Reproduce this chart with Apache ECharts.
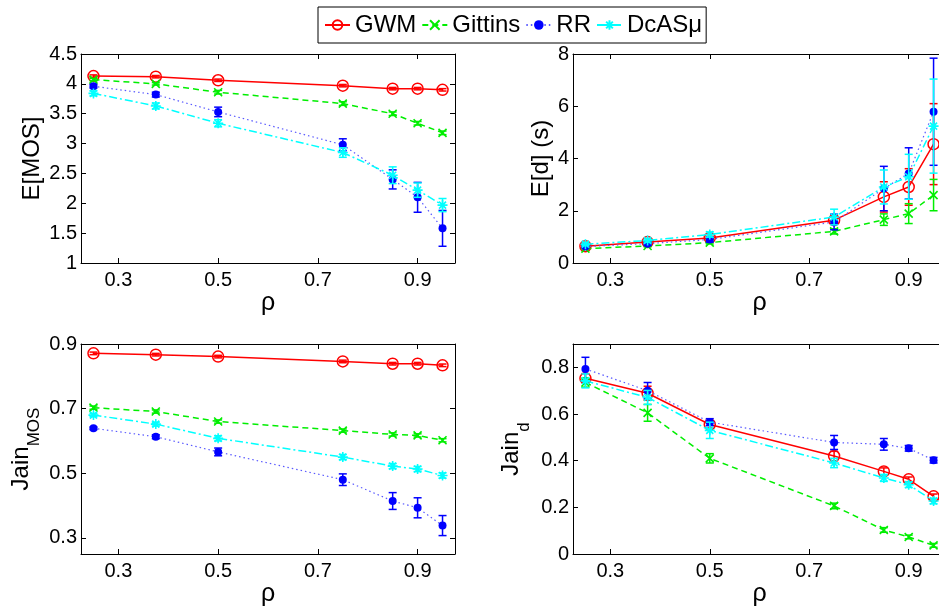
<!DOCTYPE html>
<html><head><meta charset="utf-8">
<script src="https://cdn.jsdelivr.net/npm/echarts@6/dist/echarts.min.js"></script>
<style>html,body{margin:0;padding:0;background:#fff}#c{width:939px;height:609px}</style>
</head><body><div id="c"></div>
<script>
// ---------- data ----------
const rho = [0.25, 0.375, 0.5, 0.75, 0.85, 0.9, 0.95];
const seriesNames = ['GWM', 'Gittins', 'RR', 'DcASμ'];
const xTicks = [0.3, 0.5, 0.7, 0.9];

// E[MOS]
const mosGWM = [4.13, 4.12, 4.06, 3.97, 3.92, 3.92, 3.90];
const mosGWMErr = [0.02, 0.02, 0.02, 0.02, 0.02, 0.02, 0.02];
const mosGit = [4.07, 4.00, 3.86, 3.67, 3.50, 3.34, 3.18];
const mosGitErr = [0.02, 0.02, 0.03, 0.03, 0.03, 0.03, 0.03];
const mosRR = [3.96, 3.82, 3.53, 2.98, 2.40, 2.10, 1.58];
const mosRRErr = [0.03, 0.04, 0.08, 0.10, 0.16, 0.25, 0.30];
const mosDc = [3.84, 3.63, 3.34, 2.85, 2.47, 2.22, 1.97];
const mosDcErr = [0.04, 0.05, 0.06, 0.08, 0.14, 0.12, 0.11];
const mosTicks = [1, 1.5, 2, 2.5, 3, 3.5, 4, 4.5];

// E[d] (s)
const dGWM = [0.64, 0.80, 0.96, 1.64, 2.53, 2.91, 4.55];
const dGWMErr = [0.03, 0.04, 0.06, 0.15, 0.58, 0.70, 1.55];
const dGit = [0.55, 0.65, 0.78, 1.21, 1.66, 1.89, 2.60];
const dGitErr = [0.02, 0.03, 0.05, 0.10, 0.22, 0.38, 0.60];
const dRR = [0.63, 0.74, 0.90, 1.57, 2.85, 3.43, 5.79];
const dRRErr = [0.05, 0.06, 0.10, 0.30, 0.85, 0.98, 2.05];
const dDc = [0.72, 0.86, 1.09, 1.76, 2.91, 3.30, 5.24];
const dDcErr = [0.05, 0.06, 0.10, 0.30, 0.65, 0.86, 1.80];
const dTicks = [0, 2, 4, 6, 8];

// Jain_MOS
const jmGWM = [0.871, 0.867, 0.861, 0.846, 0.839, 0.839, 0.834];
const jmGWMErr = [0.004, 0.004, 0.004, 0.004, 0.004, 0.004, 0.004];
const jmGit = [0.703, 0.691, 0.660, 0.632, 0.620, 0.617, 0.602];
const jmGitErr = [0.005, 0.005, 0.005, 0.005, 0.005, 0.005, 0.005];
const jmRR = [0.639, 0.613, 0.566, 0.480, 0.414, 0.393, 0.338];
const jmRRErr = [0.004, 0.006, 0.012, 0.018, 0.026, 0.031, 0.031];
const jmDc = [0.680, 0.652, 0.608, 0.550, 0.522, 0.513, 0.493];
const jmDcErr = [0.005, 0.006, 0.008, 0.008, 0.008, 0.008, 0.008];
const jmTicks = [0.3, 0.5, 0.7, 0.9];

// Jain_d
const jdGWM = [0.753, 0.689, 0.555, 0.420, 0.354, 0.320, 0.247];
const jdGWMErr = [0.02, 0.03, 0.015, 0.02, 0.015, 0.01, 0.01];
const jdGit = [0.735, 0.605, 0.410, 0.206, 0.103, 0.073, 0.037];
const jdGitErr = [0.02, 0.036, 0.02, 0.012, 0.01, 0.008, 0.008];
const jdRR = [0.793, 0.700, 0.565, 0.478, 0.470, 0.453, 0.402];
const jdRRErr = [0.05, 0.035, 0.015, 0.03, 0.025, 0.012, 0.012];
const jdDc = [0.742, 0.671, 0.530, 0.390, 0.326, 0.297, 0.227];
const jdDcErr = [0.03, 0.03, 0.035, 0.02, 0.015, 0.012, 0.012];
const jdTicks = [0, 0.2, 0.4, 0.6, 0.8];

// ---------- styling / layout ----------
const FONT = 'Liberation Sans';
const styles = [
  { color: '#ff0000', line: '#ff0000', lineType: 'solid', lineWidth: 1.5, symbol: 'circle', size: 11, fill: 'rgba(255,0,0,0)', bw: 1.5 },
  { color: '#00ee00', line: '#00ee00', lineType: [6, 4], lineWidth: 1.5, symbol: 'path://M0,0L10,10M10,0L0,10', size: 8, fill: '#00ee00', bw: 1.6 },
  { color: '#0000ff', line: '#5a5aff', lineType: [1.5, 3], lineWidth: 1.2, symbol: 'circle', size: 8, fill: '#0000ff', bw: 0 },
  { color: '#00ffff', line: '#00ffff', lineType: [8, 3, 2, 3], lineWidth: 1.5, symbol: 'path://M0,5L10,5M5,0L5,10M1.5,1.5L8.5,8.5M8.5,1.5L1.5,8.5', size: 10, fill: '#00ffff', bw: 1.6 }
];

const panels = [
  { grid: { left: 81, top: 54, width: 374, height: 209 }, yMin: 1, yMax: 4.5, yTicks: mosTicks, rightAxis: true,
    name: 'E[MOS]', nameGap: 37, vals: [mosGWM, mosGit, mosRR, mosDc], errs: [mosGWMErr, mosGitErr, mosRRErr, mosDcErr] },
  { grid: { left: 573, top: 54, width: 373, height: 209 }, yMin: 0, yMax: 8, yTicks: dTicks, rightAxis: false,
    name: 'E[d] (s)', nameGap: 20, vals: [dGWM, dGit, dRR, dDc], errs: [dGWMErr, dGitErr, dRRErr, dDcErr] },
  { grid: { left: 81, top: 344, width: 374, height: 210 }, yMin: 0.25, yMax: 0.9, yTicks: jmTicks, rightAxis: true,
    name: '{m|Jain}{s|MOS}', nameGap: 38, vals: [jmGWM, jmGit, jmRR, jmDc], errs: [jmGWMErr, jmGitErr, jmRRErr, jmDcErr] },
  { grid: { left: 573, top: 344, width: 373, height: 210 }, yMin: 0, yMax: 0.9, yTicks: jdTicks, rightAxis: false,
    name: '{m|Jain}{s|d}', nameGap: 40, vals: [jdGWM, jdGit, jdRR, jdDc], errs: [jdGWMErr, jdGitErr, jdRRErr, jdDcErr] }
];

const axisLine = { show: true, onZero: false, lineStyle: { color: '#000', width: 1 } };
const grid = [], xAxis = [], yAxis = [], series = [];

panels.forEach((p, i) => {
  grid.push(Object.assign({ containLabel: false, outerBoundsMode: 'none' }, p.grid));
  // bottom x
  xAxis.push({ type: 'value', gridIndex: i, min: 0.225, max: 0.975, position: 'bottom',
    axisLine, splitLine: { show: false },
    axisTick: { inside: true, length: 5, lineStyle: { color: '#000' }, customValues: xTicks },
    axisLabel: { customValues: xTicks, color: '#000', fontFamily: FONT, fontSize: 20, margin: 7 },
    name: 'ρ', nameLocation: 'middle', nameGap: 20,
    nameTextStyle: { color: '#000', fontFamily: FONT, fontSize: 25 } });
  // top x
  xAxis.push({ type: 'value', gridIndex: i, min: 0.225, max: 0.975, position: 'top',
    axisLine, splitLine: { show: false },
    axisTick: { inside: true, length: 5, lineStyle: { color: '#000' }, customValues: xTicks },
    axisLabel: { show: false } });
  // left y
  yAxis.push({ type: 'value', gridIndex: i, min: p.yMin, max: p.yMax, position: 'left',
    axisLine, splitLine: { show: false },
    axisTick: { inside: true, length: 5, lineStyle: { color: '#000' }, customValues: p.yTicks },
    axisLabel: { customValues: p.yTicks, color: '#000', fontFamily: FONT, fontSize: 20, margin: 4 },
    name: p.name, nameLocation: 'middle', nameGap: p.nameGap, nameRotate: 90,
    nameTextStyle: { color: '#000', fontFamily: FONT, fontSize: 24,
      rich: { m: { fontFamily: FONT, fontSize: 24, color: '#000', verticalAlign: 'top' },
              s: { fontFamily: FONT, fontSize: 17, color: '#000', verticalAlign: 'top', padding: [17, 0, 0, 0] } } } });
  // right y
  yAxis.push({ type: 'value', gridIndex: i, min: p.yMin, max: p.yMax, position: 'right',
    axisLine: Object.assign({}, axisLine, { show: p.rightAxis }), splitLine: { show: false },
    axisTick: { show: p.rightAxis, inside: true, length: 5, lineStyle: { color: '#000' }, customValues: p.yTicks },
    axisLabel: { show: false } });

  seriesNames.forEach((nm, k) => {
    const st = styles[k];
    const vals = p.vals[k], errs = p.errs[k];
    series.push({
      type: 'custom', xAxisIndex: 2 * i, yAxisIndex: 2 * i, clip: false, silent: true, z: 2 + k,
      data: rho.map((r, j) => [r, vals[j], errs[j]]),
      renderItem: (params, api) => {
        const x = api.value(0), y = api.value(1), e = api.value(2);
        const t = api.coord([x, y + e]), b = api.coord([x, y - e]);
        const hw = 4, s = { stroke: st.color, lineWidth: 1.5 };
        return { type: 'group', children: [
          { type: 'line', shape: { x1: t[0], y1: t[1], x2: b[0], y2: b[1] }, style: s },
          { type: 'line', shape: { x1: t[0] - hw, y1: t[1], x2: t[0] + hw, y2: t[1] }, style: s },
          { type: 'line', shape: { x1: b[0] - hw, y1: b[1], x2: b[0] + hw, y2: b[1] }, style: s }
        ] };
      }
    });
    series.push({
      type: 'line', name: nm, xAxisIndex: 2 * i, yAxisIndex: 2 * i, z: 2 + k,
      data: rho.map((r, j) => [r, vals[j]]),
      symbol: st.symbol, symbolSize: st.size, showAllSymbol: true, clip: false,
      lineStyle: { color: st.line, width: st.lineWidth, type: st.lineType },
      itemStyle: { color: st.fill, borderColor: st.color, borderWidth: st.bw },
      emphasis: { disabled: true }
    });
  });
});

const chart = echarts.init(document.getElementById('c'), null, { renderer: 'canvas' });
chart.setOption({
  animation: false,
  backgroundColor: '#fff',
  legend: {
    data: seriesNames, left: 318, top: 7, orient: 'horizontal',
    padding: [6, 4, 6, 6], itemGap: 5, itemWidth: 25, itemHeight: 12,
    borderColor: '#000', borderWidth: 1, selectedMode: false,
    textStyle: { fontFamily: FONT, fontSize: 24, color: '#000' }
  },
  grid, xAxis, yAxis, series
});
</script></body></html>
